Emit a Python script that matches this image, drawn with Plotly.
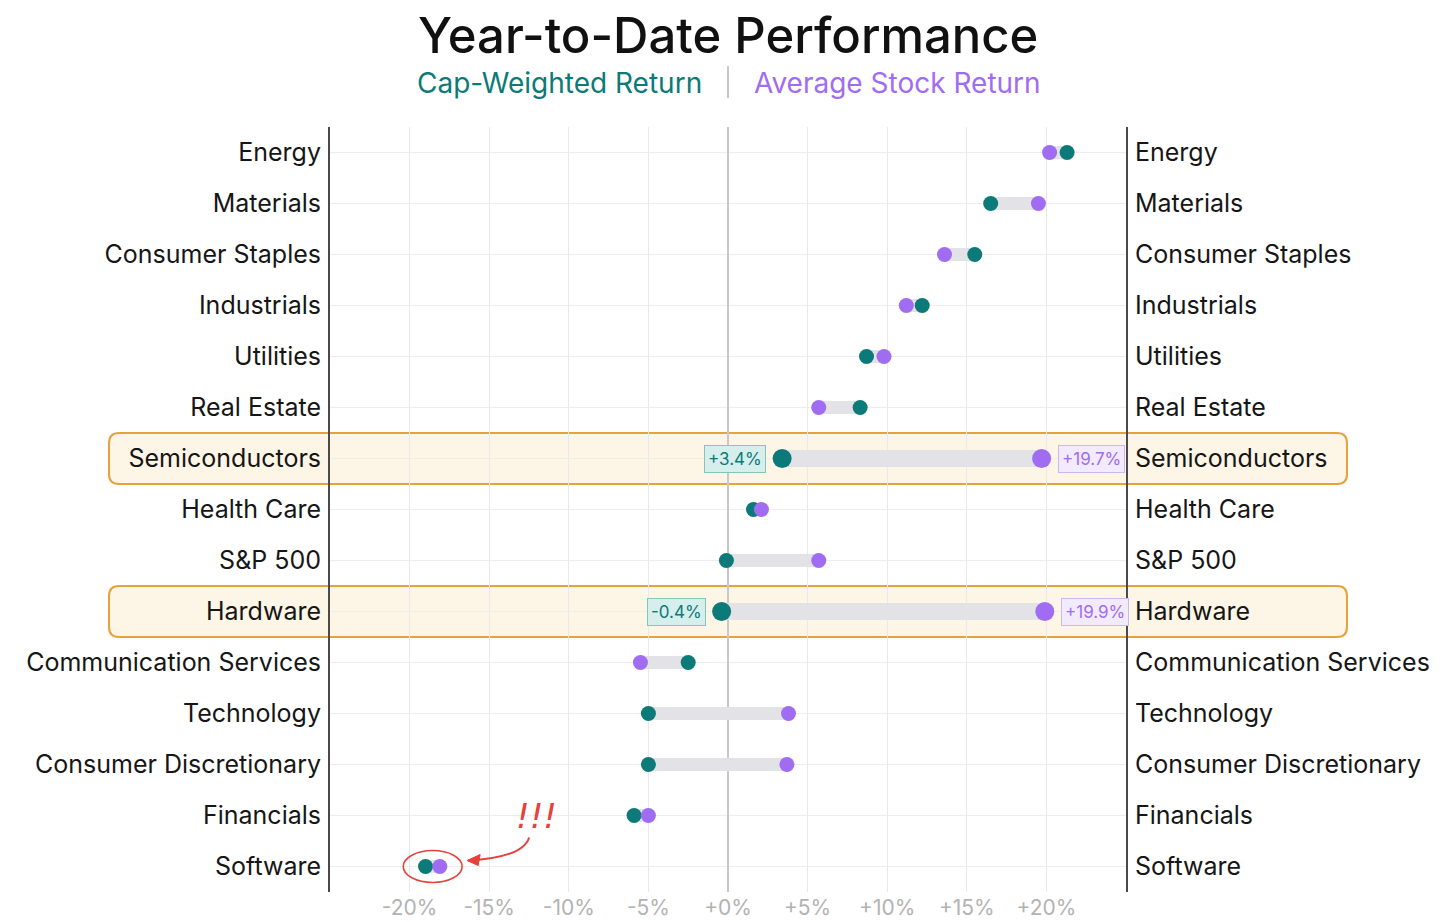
import plotly.graph_objects as go

categories = ["Energy", "Materials", "Consumer Staples", "Industrials", "Utilities",
              "Real Estate", "Semiconductors", "Health Care", "S&P 500", "Hardware",
              "Communication Services", "Technology", "Consumer Discretionary",
              "Financials", "Software"]
cap_weighted = [21.3, 16.5, 15.5, 12.2, 8.7, 8.3, 3.4, 1.6, -0.1, -0.4, -2.5, -5.0, -5.0, -5.9, -19.0]
avg_stock = [20.2, 19.5, 13.6, 11.2, 9.8, 5.7, 19.7, 2.1, 5.7, 19.9, -5.5, 3.8, 3.7, -5.0, -18.1]
highlighted = ["Semiconductors", "Hardware"]
callout = "Software"
tick_vals = [-20, -15, -10, -5, 0, 5, 10, 15, 20]
tick_text = ["-20%", "-15%", "-10%", "-5%", "+0%", "+5%", "+10%", "+15%", "+20%"]

TEAL = "#0b7a78"
PURPLE = "#a06cf2"
BAR = "#e2e2e7"
RED = "#e5423b"
FONT = "Inter"

# page body has an 8px margin
OFF = 8
W, H = 1456 - 2 * OFF, 922 - OFF
PL, PR, PT, PB = 330 - OFF, 1126 - OFF, 127 - OFF, 892 - OFF  # plot area in figure px
ML, MR, MT, MB = PL, W - PR, PT, H - PB
PW, PH = PR - PL, PB - PT
XR = [-25, 25]
n = len(categories)
rows = list(range(n))

px_x = PW / (XR[1] - XR[0])
px_y = PH / n


def py(y_page):
    return (PB - (y_page - OFF)) / PH


def pxp(x_page):
    return ((x_page - OFF) - PL) / PW


fig = go.Figure()


def bars(idx, width):
    xs, ys = [], []
    for i in idx:
        xs += [cap_weighted[i], avg_stock[i], None]
        ys += [i, i, None]
    fig.add_trace(go.Scatter(x=xs, y=ys, mode="lines", line=dict(color=BAR, width=width),
                             hoverinfo="skip", showlegend=False))


norm_idx = [i for i, c in enumerate(categories) if c not in highlighted]
hi_idx = [i for i, c in enumerate(categories) if c in highlighted]
bars(norm_idx, 13)
bars(hi_idx, 17)

sizes = [19 if c in highlighted else 15 for c in categories]
fig.add_trace(go.Scatter(x=cap_weighted, y=rows, mode="markers",
                         marker=dict(color=TEAL, size=sizes, opacity=1, line=dict(width=0)),
                         name="Cap-Weighted Return", showlegend=False))
fig.add_trace(go.Scatter(x=avg_stock, y=rows, mode="markers",
                         marker=dict(color=PURPLE, size=sizes, opacity=1, line=dict(width=0)),
                         name="Average Stock Return", showlegend=False))
fig.add_trace(go.Scatter(x=[None], y=[None], yaxis="y2", showlegend=False, hoverinfo="skip"))

shapes = []
annotations = []

# highlight boxes
bx0 = pxp(109)
bx1 = pxp(1347)
rx = 10 / PW
ry = 10 / px_y
for i in hi_idx:
    y0, y1 = i - 0.5, i + 0.5
    path = (f"M {bx0+rx},{y0} L {bx1-rx},{y0} Q {bx1},{y0} {bx1},{y0+ry} "
            f"L {bx1},{y1-ry} Q {bx1},{y1} {bx1-rx},{y1} L {bx0+rx},{y1} "
            f"Q {bx0},{y1} {bx0},{y1-ry} L {bx0},{y0+ry} Q {bx0},{y0} {bx0+rx},{y0} Z")
    shapes.append(dict(type="path", path=path, xref="paper", yref="y", layer="below",
                       fillcolor="#fdf5e5", line=dict(color="#e9a13a", width=2)))
    c, a = cap_weighted[i], avg_stock[i]
    lo_is_cap = c <= a
    annotations.append(dict(x=c, y=i, xref="x", yref="y", text=f"{c:+.1f}%", showarrow=False,
                            xanchor="right" if lo_is_cap else "left",
                            xshift=-16 if lo_is_cap else 16,
                            font=dict(family=FONT, size=17, color=TEAL),
                            bgcolor="#d6eeec", bordercolor="#86c4bf", borderwidth=1, borderpad=3))
    annotations.append(dict(x=a, y=i, xref="x", yref="y", text=f"{a:+.1f}%", showarrow=False,
                            xanchor="left" if lo_is_cap else "right",
                            xshift=16 if lo_is_cap else -16,
                            font=dict(family=FONT, size=17, color=PURPLE),
                            bgcolor="#f2eafd", bordercolor="#cdb5f6", borderwidth=1, borderpad=3))

# callout on Software
si = categories.index(callout)
sc, sa = cap_weighted[si], avg_stock[si]
smin, smax = min(sc, sa), max(sc, sa)
shapes.append(dict(type="circle", xref="x", yref="y", x0=smin - 1.4, x1=smax + 1.4,
                   y0=si - 16 / px_y, y1=si + 16 / px_y, line=dict(color=RED, width=1.6)))


def dx(p):
    return p / px_x


def dy(p):
    return p / px_y


hx, hy = smax + 1.4 + dx(6), si - dy(6)
tx, ty = hx + dx(61), hy - dy(23)
cx, cy = hx + dx(55), hy - dy(3)
shapes.append(dict(type="path", xref="x", yref="y",
                   path=f"M {tx},{ty} Q {cx},{cy} {hx},{hy}",
                   line=dict(color=RED, width=2)))
shapes.append(dict(type="path", xref="x", yref="y",
                   path=(f"M {hx - dx(1)},{hy} L {hx + dx(12)},{hy - dy(6)} "
                         f"L {hx + dx(10)},{hy + dy(5)} Z"),
                   fillcolor=RED, line=dict(color=RED, width=1)))
annotations.append(dict(x=tx + dx(7), y=ty - dy(22), xref="x", yref="y", text="<i>!!!</i>",
                        showarrow=False, font=dict(family="DejaVu Sans", size=34, color=RED)))

# title & legend
annotations.append(dict(x=0.5, y=py(36), xref="paper", yref="paper",
                        text="Year-to-Date Performance", showarrow=False, yanchor="middle",
                        font=dict(family=FONT, size=49, color="#111111", weight=500)))
ly = py(83)
annotations.append(dict(x=0.5, y=ly, xref="paper", yref="paper", xanchor="right", xshift=-24,
                        text="Cap-Weighted Return", showarrow=False, yanchor="middle",
                        font=dict(family=FONT, size=28, color=TEAL)))
annotations.append(dict(x=0.5, y=ly, xref="paper", yref="paper", xanchor="left", xshift=24,
                        text="Average Stock Return", showarrow=False, yanchor="middle",
                        font=dict(family=FONT, size=28, color=PURPLE)))
shapes.append(dict(type="line", xref="paper", yref="paper", x0=0.5, x1=0.5,
                   y0=py(98), y1=py(66), line=dict(color="#c8c8c8", width=2)))

yax = dict(range=[n - 0.5, -0.5], tickmode="array", tickvals=rows, ticktext=categories,
           showgrid=True, gridcolor="#ededed", gridwidth=1, zeroline=False,
           showline=True, linecolor="#4a4a4a", linewidth=2, ticks="",
           ticklabelstandoff=2, tickfont=dict(family=FONT, size=25, color="#161616"),
           fixedrange=True, automargin=False)

fig.update_layout(
    width=W, height=H,
    margin=dict(l=ML, r=MR, t=MT, b=MB, autoexpand=False),
    paper_bgcolor="white", plot_bgcolor="rgba(0,0,0,0)",
    showlegend=False,
    font=dict(family=FONT),
    xaxis=dict(range=XR, tickmode="array", tickvals=tick_vals, ticktext=tick_text,
               showgrid=True, gridcolor="#e9e9e9", gridwidth=1,
               zeroline=True, zerolinecolor="#c9c9c9", zerolinewidth=2,
               showline=False, ticks="", ticklabelstandoff=1, automargin=False,
               tickfont=dict(family=FONT, size=21, color="#b3b3b3"), fixedrange=True),
    yaxis=yax,
    yaxis2=dict(yax, overlaying="y", side="right", showgrid=False),
    shapes=shapes,
    annotations=annotations,
)

fig.write_html("out.html")
